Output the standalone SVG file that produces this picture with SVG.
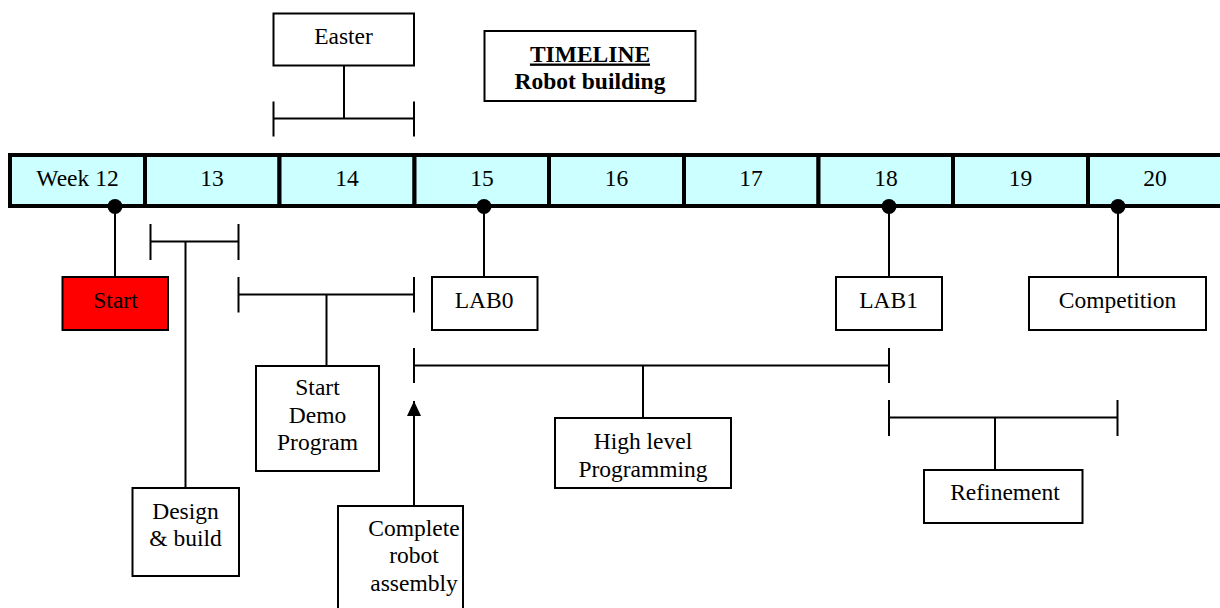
<svg xmlns="http://www.w3.org/2000/svg" width="1220" height="608" viewBox="0 0 1220 608">
<style>
text{font-family:"Liberation Serif","Times New Roman",serif;font-size:23.5px;fill:#000;text-anchor:middle}
.box{fill:#fff;stroke:#000;stroke-width:2}
.cell{fill:#ccffff;stroke:#000;stroke-width:4}
.ln{fill:none;stroke:#000;stroke-width:2}
.dot{fill:#000}
.b{font-weight:bold}
</style>
<defs>
<marker id="arr" markerWidth="15" markerHeight="14" refX="15" refY="7" orient="auto" markerUnits="userSpaceOnUse" viewBox="0 0 15 14">
<path d="M0 0 L15 7 L0 14 Z" fill="#000"/>
</marker>
</defs>
<rect width="1220" height="608" fill="#fff"/>
<g id="timeline">
<rect class="cell" x="10" y="155" width="135" height="51"/>
<rect class="cell" x="145" y="155" width="134.5" height="51"/>
<rect class="cell" x="279.5" y="155" width="135" height="51"/>
<rect class="cell" x="414.5" y="155" width="134.5" height="51"/>
<rect class="cell" x="549" y="155" width="135" height="51"/>
<rect class="cell" x="684" y="155" width="134.5" height="51"/>
<rect class="cell" x="818.5" y="155" width="134.5" height="51"/>
<rect class="cell" x="953" y="155" width="135" height="51"/>
<rect class="cell" x="1088" y="155" width="140" height="51"/>
<text x="77.5" y="186">Week 12</text>
<text x="212" y="186">13</text>
<text x="347" y="186">14</text>
<text x="482" y="186">15</text>
<text x="616.5" y="186">16</text>
<text x="751" y="186">17</text>
<text x="886" y="186">18</text>
<text x="1020.5" y="186">19</text>
<text x="1155" y="186">20</text>
</g>
<g id="connectors">
<line class="ln" x1="115" y1="206" x2="115" y2="277"/>
<line class="ln" x1="484" y1="206" x2="484" y2="277"/>
<line class="ln" x1="889" y1="206" x2="889" y2="277"/>
<line class="ln" x1="1118" y1="206" x2="1118" y2="277"/>
<circle class="dot" cx="115" cy="206.5" r="7.5"/>
<circle class="dot" cx="484" cy="206.5" r="7.5"/>
<circle class="dot" cx="889" cy="206.5" r="7.5"/>
<circle class="dot" cx="1118" cy="206.5" r="7.5"/>
<path class="ln" d="M273.5 101.5 V136.5 M414 101.5 V136.5 M273.5 118.5 H414 M344 65.5 V118.5"/>
<path class="ln" d="M150.5 224 V260 M238.5 224 V260 M150.5 241.5 H238.5 M185.5 241.5 V488"/>
<path class="ln" d="M238.5 277 V312.5 M414 277 V312.5 M238.5 294.5 H414 M326.5 294.5 V366"/>
<path class="ln" d="M414 348 V383 M889 348 V383 M414 365.5 H889 M643 365.5 V418"/>
<path class="ln" d="M889 400 V436 M1117.5 400 V436 M889 417.5 H1117.5 M995 417.5 V470"/>
<line class="ln" x1="414" y1="506" x2="414" y2="401" marker-end="url(#arr)"/>
</g>
<g id="easter">
<rect class="box" x="273.5" y="13.5" width="140.5" height="52"/>
<text x="343.5" y="44">Easter</text>
</g>
<g id="title">
<rect class="box" x="484.5" y="31" width="211" height="70"/>
<text class="b" x="590" y="61.5" text-decoration="underline">TIMELINE</text>
<text class="b" x="590" y="88.5">Robot building</text>
</g>
<g id="start">
<rect x="62.5" y="277" width="105.5" height="53" fill="#ff0000" stroke="#000" stroke-width="2"/>
<text x="115.5" y="308">Start</text>
</g>
<g id="lab0">
<rect class="box" x="432" y="277" width="105.5" height="53"/>
<text x="484" y="308">LAB0</text>
</g>
<g id="lab1">
<rect class="box" x="836" y="277" width="106" height="53"/>
<text x="888.5" y="308">LAB1</text>
</g>
<g id="competition">
<rect class="box" x="1029" y="277" width="177" height="53"/>
<text x="1117.5" y="308">Competition</text>
</g>
<g id="startdemo">
<rect class="box" x="256" y="366" width="123" height="105"/>
<text x="317.5" y="395">Start</text>
<text x="317.5" y="422.5">Demo</text>
<text x="317.5" y="450">Program</text>
</g>
<g id="design">
<rect class="box" x="132.5" y="488" width="106.5" height="88"/>
<text x="185.5" y="518.5">Design</text>
<text x="185.5" y="546">&amp; build</text>
</g>
<g id="complete">
<rect class="box" x="338" y="506" width="125" height="106"/>
<text x="414" y="535.5">Complete</text>
<text x="414" y="563">robot</text>
<text x="414" y="591">assembly</text>
</g>
<g id="highlevel">
<rect class="box" x="555" y="418" width="176" height="70"/>
<text x="643" y="448.5">High level</text>
<text x="643" y="476.5">Programming</text>
</g>
<g id="refinement">
<rect class="box" x="924" y="470" width="158.5" height="53"/>
<text x="1005" y="500">Refinement</text>
</g>
</svg>
